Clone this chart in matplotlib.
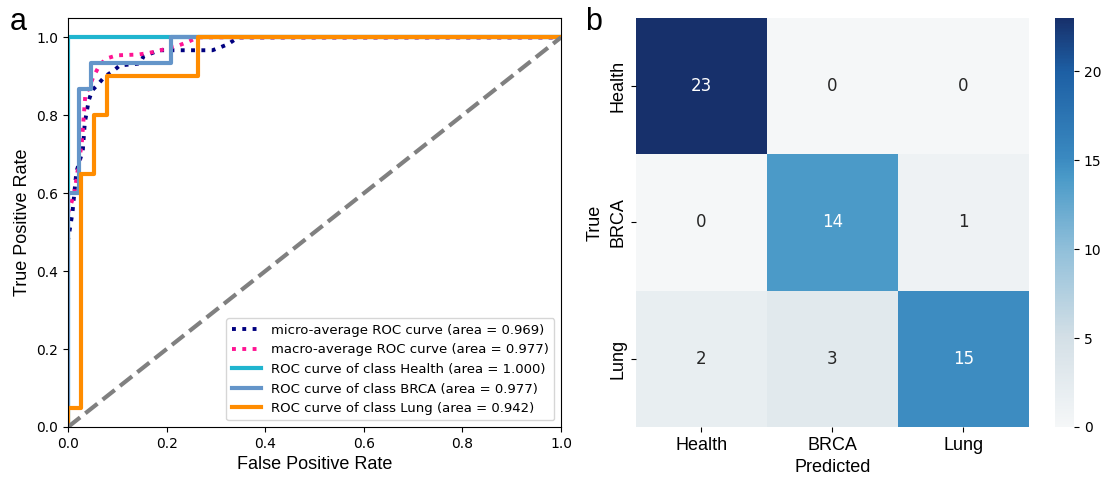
import numpy as np
import matplotlib.pyplot as plt
import seaborn as sns
from matplotlib.colors import LinearSegmentedColormap

classes = ['Health', 'BRCA', 'Lung']

# ROC curves (fpr / tpr corner points)
fpr_micro = [0.0, 0.0, 0.004, 0.009, 0.017, 0.030, 0.034, 0.042, 0.049, 0.059, 0.075, 0.093,
             0.105, 0.146, 0.153, 0.185, 0.293, 0.310, 0.325, 0.345, 1.0]
tpr_micro = [0.0, 0.48, 0.51, 0.55, 0.655, 0.71, 0.78, 0.838, 0.864, 0.877, 0.90, 0.915,
             0.928, 0.933, 0.951, 0.967, 0.967, 0.975, 0.983, 1.0, 1.0]

fpr_macro = [0.0, 0.008, 0.014, 0.028, 0.035, 0.052, 0.062, 0.076, 0.099, 0.143, 0.163, 0.183,
             0.209, 0.226, 0.246, 0.263, 1.0]
tpr_macro = [0.55, 0.58, 0.61, 0.73, 0.85, 0.90, 0.924, 0.945, 0.954, 0.956, 0.96, 0.965,
             0.975, 0.98, 0.99, 1.0, 1.0]

fpr_health = [0.0, 0.0, 1.0]
tpr_health = [0.0, 1.0, 1.0]

fpr_brca = [0.0, 0.0, 0.023, 0.023, 0.047, 0.047, 0.209, 0.209, 1.0]
tpr_brca = [0.0, 0.6, 0.6, 0.867, 0.867, 0.933, 0.933, 1.0, 1.0]

fpr_lung = [0.0, 0.0, 0.026, 0.026, 0.053, 0.053, 0.079, 0.079, 0.263, 0.263, 1.0]
tpr_lung = [0.0, 0.05, 0.05, 0.65, 0.65, 0.80, 0.80, 0.90, 0.90, 1.0, 1.0]

auc_micro = 0.969
auc_macro = 0.977
auc_class = [1.000, 0.977, 0.942]

# confusion matrix (rows = true, cols = predicted)
cm = np.array([[23, 0, 0],
               [0, 14, 1],
               [2, 3, 15]])

# greyish-white to navy blue colour map
blues = LinearSegmentedColormap.from_list(
    'greyblues', [(0.0, '#f5f7f8'), (0.22, '#d3dfe6'), (0.43, '#92c0da'),
                  (0.61, '#4a9ac8'), (0.66, '#3a89c0'), (0.87, '#1d5fa4'), (1.0, '#17306b')])

fig = plt.figure(figsize=(11.04, 4.79), dpi=100)

######################## ROC panel
ax = fig.add_axes([0.0616, 0.1086, 0.4466, 0.854])
lw = 3
ax.plot(fpr_micro, tpr_micro, color='navy', linestyle=':', linewidth=2.8,
        label='micro-average ROC curve (area = {0:0.3f})'.format(auc_micro))
ax.plot(fpr_macro, tpr_macro, color='deeppink', linestyle=':', linewidth=2.8,
        label='macro-average ROC curve (area = {0:0.3f})'.format(auc_macro))
ax.plot(fpr_health, tpr_health, color='#20b5cf', linewidth=lw,
        label='ROC curve of class Health (area = {0:0.3f})'.format(auc_class[0]))
ax.plot(fpr_brca, tpr_brca, color='#6495c9', linewidth=lw,
        label='ROC curve of class BRCA (area = {0:0.3f})'.format(auc_class[1]))
ax.plot(fpr_lung, tpr_lung, color='darkorange', linewidth=lw,
        label='ROC curve of class Lung (area = {0:0.3f})'.format(auc_class[2]))
ax.plot([0, 1], [0, 1], color='gray', linestyle='--', linewidth=lw)
ax.set_xlim(0.0, 1.0)
ax.set_ylim(0.0, 1.05)
ax.tick_params(labelsize=10)
ax.set_xlabel('False Positive Rate', fontsize=13, family='Liberation Sans')
ax.set_ylabel('True Positive Rate', fontsize=13, family='Liberation Sans')
ax.legend(loc='lower right', fontsize=9.5, handlelength=2.2)

fig.text(0.009, 0.955, 'a', fontsize=22, family='Liberation Sans', va='center')
fig.text(0.530, 0.955, 'b', fontsize=22, family='Liberation Sans', va='center')

######################## confusion matrix panel
ax2 = fig.add_axes([0.576, 0.1086, 0.356, 0.854])
cax = fig.add_axes([0.9556, 0.1086, 0.0172, 0.854])
sns.heatmap(cm, annot=True, fmt='d', cmap=blues, vmin=0, vmax=23, ax=ax2, cbar_ax=cax,
            xticklabels=classes, yticklabels=classes,
            annot_kws={'fontsize': 12})
ax2.set_xticklabels(classes, fontsize=13, family='Liberation Sans')
ax2.set_yticklabels(classes, fontsize=13, family='Liberation Sans', rotation=90, va='center')
ax2.set_xlabel('Predicted', fontsize=13, family='Liberation Sans')
ax2.set_ylabel('True', fontsize=13, family='Liberation Sans')
ax2.yaxis.set_label_coords(-0.082, 0.5)
cax.tick_params(labelsize=10)

plt.savefig('out.png', dpi=100)
plt.close()
